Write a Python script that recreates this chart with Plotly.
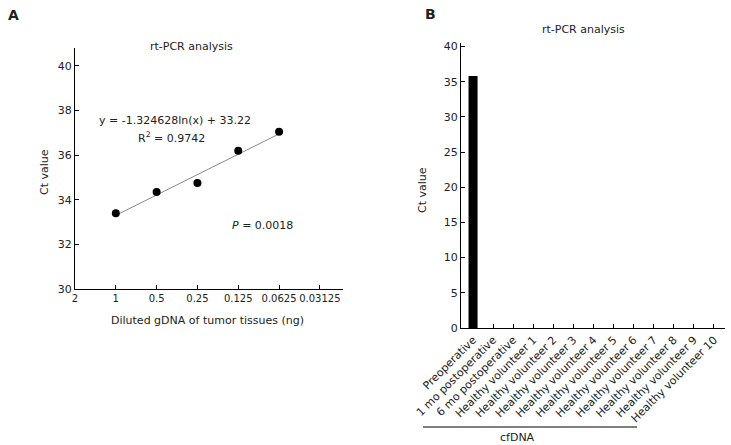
import math
import plotly.graph_objects as go

# ---- Panel A data ----
dilution_ticks = [2, 1, 0.5, 0.25, 0.125, 0.0625, 0.03125]
dilution_labels = ["2", "1", "0.5", "0.25", "0.125", "0.0625", "0.03125"]
gdna_ng = [1, 0.5, 0.25, 0.125, 0.0625]
ct_a = [33.4, 34.35, 34.75, 36.2, 37.05]
trend_x = [1, 0.0625]
trend_y = [33.3, 36.95]
a_yticks = [30, 32, 34, 36, 38, 40]

# ---- Panel B data ----
samples = ["Preoperative", "1 mo postoperative", "6 mo postoperative",
           "Healthy volunteer 1", "Healthy volunteer 2", "Healthy volunteer 3",
           "Healthy volunteer 4", "Healthy volunteer 5", "Healthy volunteer 6",
           "Healthy volunteer 7", "Healthy volunteer 8", "Healthy volunteer 9",
           "Healthy volunteer 10"]
ct_b = [35.8, 0, 0, 0, 0, 0, 0, 0, 0, 0, 0, 0, 0]
b_yticks = [0, 5, 10, 15, 20, 25, 30, 35, 40]

FONT = "DejaVu Sans"
W, H = 731, 445

def px(x):
    return x / W

def py(y):
    return 1 - y / H

fig = go.Figure()

fig.add_trace(go.Scatter(x=trend_x, y=trend_y, mode="lines",
                         line=dict(color="#8a8a8a", width=1),
                         xaxis="x", yaxis="y", showlegend=False))
fig.add_trace(go.Scatter(x=gdna_ng, y=ct_a, mode="markers",
                         marker=dict(color="black", size=8),
                         xaxis="x", yaxis="y", showlegend=False))
fig.add_trace(go.Bar(x=samples, y=ct_b, marker=dict(color="black", line=dict(width=0)),
                     width=0.45, xaxis="x2", yaxis="y2", showlegend=False))

axis_common = dict(showline=True, linecolor="black", linewidth=1.3,
                   ticks="inside", ticklen=4, tickcolor="black", tickwidth=1,
                   showgrid=False, zeroline=False, automargin=False,
                   tickfont=dict(family=FONT, size=11, color="#222"))

fig.update_layout(
    width=W, height=H,
    margin=dict(l=0, r=0, t=0, b=0, autoexpand=False),
    plot_bgcolor="white", paper_bgcolor="white",
    font=dict(family=FONT, size=11, color="#222"),
    xaxis=dict(axis_common, domain=[px(75), px(343)], anchor="y", type="log",
               range=[math.log10(2), math.log10(0.0211)], tickangle=0,
               tickfont=dict(family=FONT, size=10, color="#222"),
               tickmode="array", tickvals=dilution_ticks, ticktext=dilution_labels),
    yaxis=dict(axis_common, domain=[py(289), py(48)], anchor="x",
               range=[30, 40.8], tickmode="array", tickvals=a_yticks),
    xaxis2=dict(axis_common, domain=[px(461), px(725)], anchor="y2",
                type="category", range=[-0.6, 12.55], tickangle=-45),
    yaxis2=dict(axis_common, domain=[py(328), py(43)], anchor="x2",
                range=[0, 40.5], tickmode="array", tickvals=b_yticks),
)

def ann(text, x, y, size=11, angle=0, **kw):
    fig.add_annotation(text=text, x=px(x), y=py(y), xref="paper", yref="paper",
                       showarrow=False, textangle=angle,
                       font=dict(family=FONT, size=size, color="#222"),
                       xanchor="center", yanchor="middle", **kw)

ann("<b>A</b>", 13, 15, size=14)
ann("<b>B</b>", 430, 14, size=14)
ann("rt-PCR analysis", 191, 46)
ann("rt-PCR analysis", 583, 30)
ann("y = -1.324628ln(x) + 33.22", 175, 121)
ann("R<sup>2</sup> = 0.9742", 171, 137)
ann("<i>P</i> = 0.0018", 262, 225)
ann("Ct value", 44, 172, angle=-90)
ann("Ct value", 423, 190, angle=-90)
ann("Diluted gDNA of tumor tissues (ng)", 207, 320)
ann("cfDNA", 517, 437)

fig.add_shape(type="line", xref="paper", yref="paper",
              x0=px(423), x1=px(637), y0=py(427), y1=py(427),
              line=dict(color="black", width=1))

fig.write_html("out.html", config={"displayModeBar": False},
               post_script="document.body.style.margin='0';document.body.style.overflow='hidden';")
